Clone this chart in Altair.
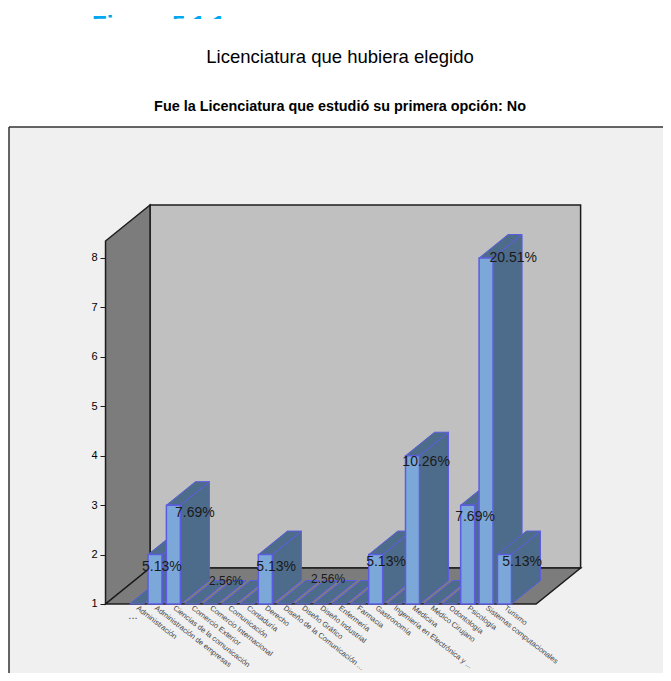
import altair as alt
import pandas as pd

categories = ["Administración", "Administración de empresas", "Ciencias de la comunicación",
              "Comercio Exterior", "Comercio Internacional", "Comunicación", "Contaduría", "Derecho",
              "Diseño de la Comunicación ...", "Diseño Gráfico", "Diseño Industrial", "Enfermería",
              "Farmacia", "Gastronomía", "Ingeniería en Electrónica y ...", "Medicina", "Médico Cirujano",
              "Odontología", "Psicología", "Sistemas computacionales", "Turismo"]
counts = [1, 2, 3, 1, 1, 1, 1, 2, 1, 1, 1, 1, 1, 2, 1, 4, 1, 1, 3, 8, 2]
y_ticks = [1, 2, 3, 4, 5, 6, 7, 8]

pct_text = ["5.13%", "7.69%", "2.56%", "5.13%", "2.56%", "5.13%", "10.26%", "7.69%", "20.51%", "5.13%"]
pct_cat = [1.37, 3.17, 4.86, 7.59, 10.41, 13.56, 15.74, 18.40, 20.48, 20.96]
pct_val = [1.750, 2.840, 1.470, 1.750, 1.510, 1.850, 3.880, 2.750, 7.990, 1.850]
pct_size = [14, 14, 12, 14, 12, 14, 14, 14, 14, 14]

# projection constants, in data units
HALF = 0.38
BAR_DX, BAR_DY = 1.577, 0.475
WALL_X0, WALL_X1 = -1.69, 21.72
WALL_DX, WALL_DY = 2.42, 0.728
WALL_TOP = 8.344

X_DOM = [-6.938, 28.62]
Y_DOM = [-0.396, 10.65]
PW, PH = 654, 546
FRONT, SIDE, EDGE = "#7ba8d8", "#4d6b8a", "#5c5ce0"
GREY, BACK, INK = "#7c7c7c", "#c0c0c0", "#1c1c1c"

label_expr = "[" + ",".join('"%s"' % c for c in categories) + "][datum.value]"
x_axis = alt.Axis(values=list(range(len(categories))), labelExpr=label_expr, orient="bottom", offset=-69,
                  domain=False, ticks=False, grid=False, labelAngle=38, labelAlign="left", labelBaseline="middle",
                  labelPadding=3, labelFontSize=7.5, labelColor="#444444", labelFont="Liberation Sans",
                  labelOverlap=False, labelLimit=200, labelBound=False, labelFlush=False, title=None)
y_axis = alt.Axis(values=y_ticks, orient="left", offset=-96, domain=False, grid=False, tickSize=5,
                  tickColor=INK, labelPadding=3, labelFontSize=11, labelColor="#000000",
                  labelFont="Liberation Sans", format="d", title=None)


def xs():
    return alt.X("x:Q", scale=alt.Scale(domain=X_DOM, nice=False, zero=False), axis=x_axis)


def ys():
    return alt.Y("y:Q", scale=alt.Scale(domain=Y_DOM, nice=False, zero=False), axis=y_axis)


def front_face(rows, fill, stroke, width):
    return alt.Chart(pd.DataFrame(rows)).mark_rect(fill=fill, stroke=stroke, strokeWidth=width).encode(
        x=xs(), x2="x2:Q", y=ys(), y2="y2:Q")


def vertical(rows, fill, stroke, width):
    return alt.Chart(pd.DataFrame(rows)).mark_area(fill=fill, stroke=stroke, strokeWidth=width, opacity=1).encode(
        x=xs(), y=ys(), y2="y2:Q")


def horizontal(rows, fill, stroke, width):
    return alt.Chart(pd.DataFrame(rows)).mark_area(orient="horizontal", fill=fill, stroke=stroke,
                                                   strokeWidth=width, opacity=1).encode(
        x=xs(), x2="x2:Q", y=ys())


layers = []
# back wall, left wall, floor
layers.append(front_face([{"x": WALL_X0 + WALL_DX, "x2": WALL_X1 + WALL_DX, "y": 1 + WALL_DY, "y2": WALL_TOP + WALL_DY}],
                         BACK, INK, 1.5))
layers.append(vertical([{"x": WALL_X0, "y": 1, "y2": WALL_TOP},
                        {"x": WALL_X0 + WALL_DX, "y": 1 + WALL_DY, "y2": WALL_TOP + WALL_DY}], GREY, INK, 1.5))
layers.append(horizontal([{"y": 1, "x": WALL_X0, "x2": WALL_X1},
                          {"y": 1 + WALL_DY, "x": WALL_X0 + WALL_DX, "x2": WALL_X1 + WALL_DX}], GREY, INK, 1.5))

# bars, painted left to right so nearer ones hide the side of the one before
for i, v in enumerate(counts):
    left, right = i - HALF, i + HALF
    if v > 1:
        layers.append(vertical([{"x": right, "y": 1, "y2": v},
                                {"x": right + BAR_DX, "y": 1 + BAR_DY, "y2": v + BAR_DY}], SIDE, EDGE, 1))
    layers.append(horizontal([{"y": v, "x": left, "x2": right},
                              {"y": v + BAR_DY, "x": left + BAR_DX, "x2": right + BAR_DX}], SIDE, EDGE, 1))
    if v > 1:
        layers.append(front_face([{"x": left, "x2": right, "y": 1, "y2": v}], FRONT, EDGE, 1.5))

# percentage labels
pct = pd.DataFrame({"x": pct_cat, "y": pct_val, "t": pct_text, "s": pct_size})
layers.append(alt.Chart(pct).mark_text(font="Liberation Sans", color="#1a1a1a").encode(
    x=xs(), y=ys(), text="t:N",
    size=alt.Size("s:Q", scale=None, legend=None)))

# stray ellipsis below the first label
layers.append(alt.Chart(pd.DataFrame({"x": [-0.2], "y": [0.76], "t": ["..."]})).mark_text(
    font="Liberation Sans", fontSize=11, color="#444444").encode(x=xs(), y=ys(), text="t:N"))

# panel border
layers.append(alt.Chart(pd.DataFrame({"a": [0]})).mark_rule(color="#333333", strokeWidth=1.5).encode(
    x=alt.value(0), x2=alt.value(PW), y=alt.value(0)))
layers.append(alt.Chart(pd.DataFrame({"a": [0]})).mark_rule(color="#333333", strokeWidth=1.5).encode(
    x=alt.value(0), y=alt.value(0), y2=alt.value(PH)))

# cut-off heading at the very top of the page
layers.append(alt.Chart(pd.DataFrame({"t": ["Figura 5.1.1"]})).mark_text(
    font="Liberation Sans", fontWeight="bold", fontSize=24, color="#00a8f0", align="left", baseline="alphabetic").encode(
    x=alt.value(83), y=alt.value(-94), text="t:N"))
layers.append(alt.Chart(pd.DataFrame({"a": [0]})).mark_rect(fill="white").encode(
    x=alt.value(60), x2=alt.value(260), y=alt.value(-108), y2=alt.value(-85)))

chart = alt.layer(*layers).properties(
    width=PW, height=PH,
    padding={"left": 1, "top": 119, "right": 0, "bottom": 0},
    autosize=alt.AutoSizeParams(type="none"),
    background="white",
    title=alt.TitleParams(
        "Licenciatura que hubiera elegido",
        subtitle="Fue la Licenciatura que estudió su primera opción: No",
        anchor="middle", dx=4, font="Liberation Sans", fontSize=18.5, fontWeight="normal", color="#000000",
        subtitleFont="Liberation Sans", subtitleFontSize=14.4, subtitleFontWeight="bold", subtitleColor="#000000",
        subtitlePadding=33, offset=-99),
).configure_view(fill="#f0f0f0", strokeWidth=0)

chart.save("out.html", embed_options={"renderer": "svg", "actions": False})
